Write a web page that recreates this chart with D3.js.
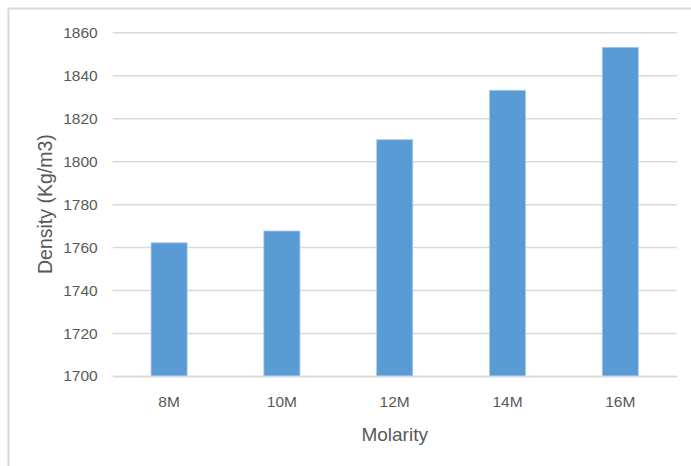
<!DOCTYPE html>
<html>
<head>
<meta charset="utf-8">
<script src="https://cdn.jsdelivr.net/npm/d3@7"></script>
<style>
  html, body { margin: 0; padding: 0; background: #fff; }
  svg { display: block; }
  text { font-family: "Liberation Sans", "DejaVu Sans", sans-serif; fill: #595959; }
</style>
</head>
<body>
<script>
const categories = ["8M", "10M", "12M", "14M", "16M"];
const densities = [1762, 1767.5, 1810, 1833, 1853];
const yTicks = [1700, 1720, 1740, 1760, 1780, 1800, 1820, 1840, 1860];

const W = 691, H = 466;
const margin = { left: 112.7, right: 14.3, top: 32.3, bottom: 90 };
const svg = d3.select("body").append("svg").attr("width", W).attr("height", H);

svg.append("rect").attr("width", W).attr("height", H).attr("fill", "#fff");
// chart frame
svg.append("rect")
  .attr("x", 8.5).attr("y", 8.5)
  .attr("width", W + 20).attr("height", H + 20)
  .attr("fill", "none").attr("stroke", "#d9d9d9").attr("stroke-width", 2);

const x = d3.scaleBand().domain(categories).range([margin.left, W - margin.right]).padding(0);
const y = d3.scaleLinear().domain([1700, 1860]).range([376, margin.top]);

// gridlines
const yAxis = d3.axisLeft(y).tickValues(yTicks).tickSize(-(W - margin.right - margin.left)).tickPadding(15).tickFormat(d3.format("d"));
const gy = svg.append("g").attr("transform", `translate(${margin.left},0)`).call(yAxis);
gy.select(".domain").remove();
gy.selectAll(".tick line").attr("stroke", "#d9d9d9").attr("stroke-width", 1.5);
gy.selectAll(".tick text").attr("font-size", 15.5).attr("fill", "#595959")
  .attr("font-family", "Liberation Sans, sans-serif");

// bars
const barW = x.bandwidth() * 0.32;
svg.append("g").selectAll("rect").data(categories).join("rect")
  .attr("x", (d) => x(d) + x.bandwidth() / 2 - barW / 2)
  .attr("y", (d, i) => y(densities[i]))
  .attr("width", barW)
  .attr("height", (d, i) => y(1700) - y(densities[i]))
  .attr("fill", "#5b9bd5")
  .attr("stroke", "#a9cbee").attr("stroke-width", 0.8);

// x axis labels
const xAxis = d3.axisBottom(x).tickSize(0).tickPadding(20);
const gx = svg.append("g").attr("transform", `translate(0,376)`).call(xAxis);
gx.select(".domain").attr("stroke", "#d9d9d9").attr("stroke-width", 1.5);
gx.selectAll(".tick text").attr("font-size", 15.5).attr("fill", "#595959")
  .attr("font-family", "Liberation Sans, sans-serif");

// axis titles
svg.append("text")
  .attr("x", (margin.left + W - margin.right) / 2).attr("y", 441)
  .attr("text-anchor", "middle").attr("font-size", 19)
  .text("Molarity");

svg.append("text")
  .attr("transform", `translate(52,${(32.3 + 376) / 2}) rotate(-90)`)
  .attr("text-anchor", "middle").attr("font-size", 19.5)
  .text("Density (Kg/m3)");
</script>
</body>
</html>
